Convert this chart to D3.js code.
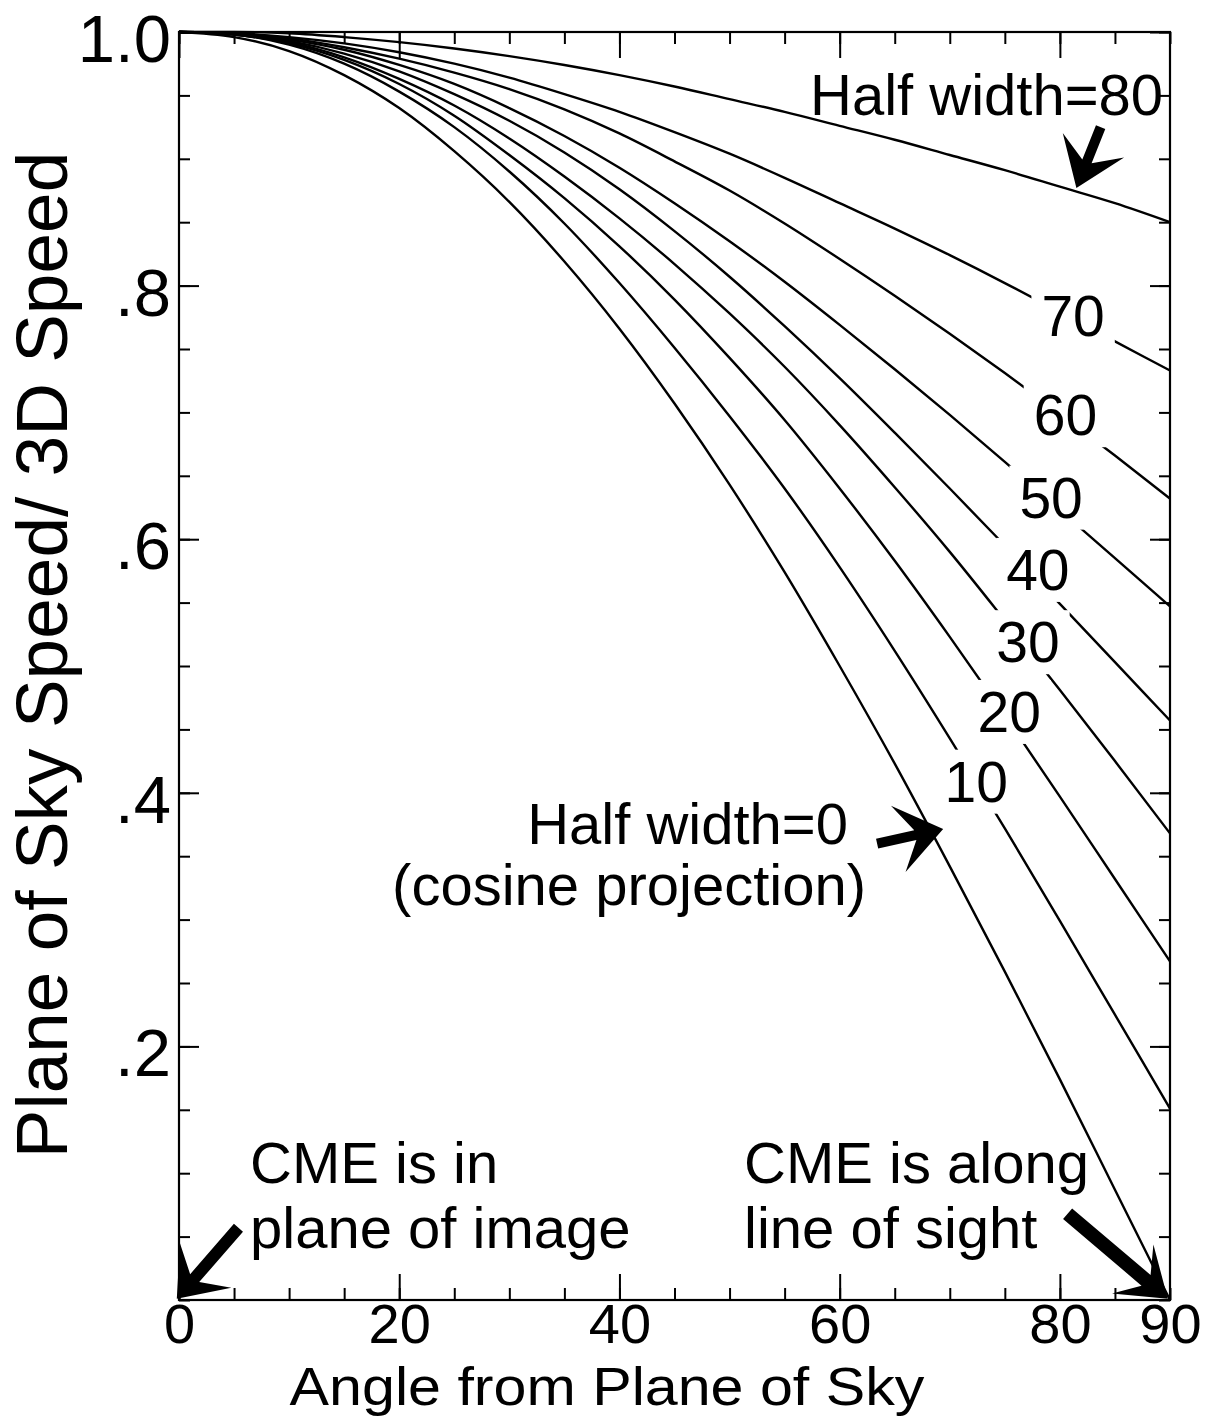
<!DOCTYPE html>
<html><head><meta charset="utf-8">
<script src="https://cdn.jsdelivr.net/npm/d3@7"></script>
<style>
html,body{margin:0;padding:0;background:#fff;}
svg{display:block;}
</style></head><body>
<svg id="chart" width="1210" height="1416"></svg>
<script>
// ---------------- data ----------------
const angles = [0,5,10,15,20,25,30,35,40,45,50,55,60,65,70,75,80,85,90];
const halfWidths = [0,10,20,30,40,50,60,70,80];
const hw0  = [1.000,0.996,0.985,0.966,0.940,0.906,0.866,0.819,0.766,0.707,0.643,0.574,0.500,0.423,0.342,0.259,0.174,0.087,0.000];
const hw10 = [1.000,0.998,0.990,0.975,0.953,0.925,0.890,0.849,0.802,0.751,0.697,0.640,0.578,0.512,0.443,0.372,0.299,0.225,0.151];
const hw20 = [1.000,0.998,0.991,0.978,0.959,0.934,0.903,0.869,0.831,0.789,0.743,0.694,0.640,0.583,0.523,0.461,0.397,0.332,0.267];
const hw30 = [1.000,0.998,0.992,0.980,0.963,0.942,0.916,0.886,0.853,0.817,0.778,0.736,0.690,0.641,0.590,0.536,0.481,0.425,0.368];
const hw40 = [1.000,0.999,0.993,0.983,0.969,0.951,0.930,0.905,0.876,0.843,0.807,0.768,0.727,0.684,0.640,0.595,0.549,0.503,0.457];
const hw50 = [1.000,0.999,0.994,0.986,0.974,0.959,0.940,0.918,0.893,0.865,0.835,0.803,0.769,0.734,0.698,0.661,0.623,0.585,0.547];
const hw60 = [1.000,0.999,0.995,0.988,0.979,0.968,0.955,0.939,0.920,0.898,0.875,0.849,0.821,0.792,0.762,0.731,0.699,0.666,0.632];
const hw70 = [1.000,0.999,0.996,0.991,0.984,0.975,0.964,0.951,0.937,0.921,0.904,0.885,0.865,0.845,0.824,0.802,0.779,0.756,0.733];
const hw80 = [1.000,1.000,0.999,0.996,0.992,0.987,0.981,0.974,0.966,0.957,0.947,0.937,0.926,0.915,0.903,0.891,0.878,0.865,0.850];
const seriesValues = [hw0,hw10,hw20,hw30,hw40,hw50,hw60,hw70,hw80];

const xMinorTicks = [0,5,10,15,20,25,30,35,40,45,50,55,60,65,70,75,80,85,90];
const xMajorTicks = [0,20,40,60,80];
const xTickLabels = [0,20,40,60,80,90];
const yMinorTicks = [0,0.05,0.1,0.15,0.2,0.25,0.3,0.35,0.4,0.45,0.5,0.55,0.6,0.65,0.7,0.75,0.8,0.85,0.9,0.95,1.0];
const yTickLabels = [0.2,0.4,0.6,0.8,1.0];

const xTitle = "Angle from Plane of Sky";
const yTitle = "Plane of Sky Speed/ 3D Speed";

// ---------------- layout ----------------
const FONT = '"Liberation Sans", Arial, Helvetica, sans-serif';
const svg = d3.select('#chart');
const x = d3.scaleLinear().domain([0,90]).range([179,1170]);
const y = d3.scaleLinear().domain([0,1]).range([1300,32]);

function styleAxis(g){ g.select('.domain').remove(); g.selectAll('line').attr('stroke','#000').attr('stroke-width',2); }

// bottom
svg.append('g').attr('transform',`translate(0,${y(0)})`)
  .call(d3.axisBottom(x).tickValues(xMinorTicks).tickSize(-12).tickFormat('')).call(styleAxis);
svg.append('g').attr('transform',`translate(0,${y(0)})`)
  .call(d3.axisBottom(x).tickValues(xMajorTicks).tickSize(-26).tickFormat('')).call(styleAxis);
const xl = svg.append('g').attr('transform',`translate(0,${y(0)})`)
  .call(d3.axisBottom(x).tickValues(xTickLabels).tickSize(0).tickPadding(3).tickFormat(d3.format('d'))).call(styleAxis);
xl.attr('font-family',FONT).attr('font-size',56);
xl.selectAll('text').attr('fill','#000');

// top
svg.append('g').attr('transform',`translate(0,${y(1)})`)
  .call(d3.axisTop(x).tickValues(xMinorTicks).tickSize(-12).tickFormat('')).call(styleAxis);
svg.append('g').attr('transform',`translate(0,${y(1)})`)
  .call(d3.axisTop(x).tickValues(xMajorTicks).tickSize(-26).tickFormat('')).call(styleAxis);

// left
svg.append('g').attr('transform',`translate(${x(0)},0)`)
  .call(d3.axisLeft(y).tickValues(yMinorTicks).tickSize(-11).tickFormat('')).call(styleAxis);
const yl = svg.append('g').attr('transform',`translate(${x(0)},0)`)
  .call(d3.axisLeft(y).tickValues(yTickLabels).tickSize(-20).tickPadding(8)
    .tickFormat(d => d === 1 ? '1.0' : d3.format('.1f')(d).replace(/^0/,''))).call(styleAxis);
yl.attr('font-family',FONT).attr('font-size',67);
yl.selectAll('text').attr('fill','#000').attr('dy','0.44em');

// right
svg.append('g').attr('transform',`translate(${x(90)},0)`)
  .call(d3.axisRight(y).tickValues(yMinorTicks).tickSize(-11).tickFormat('')).call(styleAxis);
svg.append('g').attr('transform',`translate(${x(90)},0)`)
  .call(d3.axisRight(y).tickValues(yTickLabels).tickSize(-20).tickFormat('')).call(styleAxis);

// curves
const line = d3.line().x(d => x(d[0])).y(d => y(d[1])).curve(d3.curveMonotoneX);
const series = halfWidths.map((hw,i) => ({hw, pts: angles.map((a,j) => [a, seriesValues[i][j]])}));
svg.append('g').selectAll('path').data(series).join('path')
  .attr('d', d => line(d.pts)).attr('fill','none').attr('stroke','#000').attr('stroke-width',2.4);

// curve labels (with white knock-out behind them)
const curveLabelPos = [
  {hw:70, a:81.2, v:0.760},{hw:60, a:80.5, v:0.682},{hw:50, a:79.2, v:0.617},
  {hw:40, a:78.0, v:0.560},{hw:30, a:77.1, v:0.503},{hw:20, a:75.4, v:0.448},{hw:10, a:72.4, v:0.393}
];
const lg = svg.append('g').attr('font-family',FONT).attr('font-size',57);
curveLabelPos.forEach(p => {
  const g = lg.append('g');
  const t = g.append('text').attr('x',x(p.a)).attr('y',y(p.v)).attr('text-anchor','middle').text(p.hw);
  const b = t.node().getBBox();
  g.insert('rect','text').attr('x',b.x-10).attr('y',b.y).attr('width',b.width+20).attr('height',b.height).attr('fill','#fff');
});

// frame
svg.append('rect').attr('x',x(0)).attr('y',y(1)).attr('width',x(90)-x(0)).attr('height',y(0)-y(1))
  .attr('fill','none').attr('stroke','#000').attr('stroke-width',2.2);

// annotation texts
const ann = svg.append('g').attr('font-family',FONT).attr('font-size',58).attr('fill','#000');
ann.append('text').attr('x',810).attr('y',115).text('Half width=80');
ann.append('text').attr('x',848).attr('y',844).attr('text-anchor','end').text('Half width=0');
ann.append('text').attr('x',866).attr('y',905).attr('text-anchor','end').text('(cosine projection)');
ann.append('text').attr('x',250).attr('y',1183).text('CME is in');
ann.append('text').attr('x',250).attr('y',1248).text('plane of image');
ann.append('text').attr('x',744).attr('y',1183).text('CME is along');
ann.append('text').attr('x',744).attr('y',1248).text('line of sight');

// arrows (positions in data units)
const arrows = [
  {from:[83.7,0.925], to:[81.5,0.877], L:46, W:33, s:5},
  {from:[63.4,0.360], to:[69.4,0.3715], L:46, W:34, s:5},
  {from:[5.4,0.057], to:[-0.2,0.001], L:44, W:34, s:6},
  {from:[80.7,0.068], to:[89.8,0.001], L:46, W:32, s:7}
];
function arrowPath(a){
  const x1=x(a.from[0]), y1=y(a.from[1]), x2=x(a.to[0]), y2=y(a.to[1]);
  const dx=x2-x1, dy=y2-y1, len=Math.hypot(dx,dy), ux=dx/len, uy=dy/len, nx=-uy, ny=ux;
  const neck=0.62*a.L;
  const P=[
    [x1+nx*a.s, y1+ny*a.s],
    [x2-ux*neck+nx*a.s, y2-uy*neck+ny*a.s],
    [x2-ux*a.L+nx*a.W, y2-uy*a.L+ny*a.W],
    [x2,y2],
    [x2-ux*a.L-nx*a.W, y2-uy*a.L-ny*a.W],
    [x2-ux*neck-nx*a.s, y2-uy*neck-ny*a.s],
    [x1-nx*a.s, y1-ny*a.s]
  ];
  return 'M'+P.map(p=>p.join(',')).join('L')+'Z';
}
svg.append('g').selectAll('path').data(arrows).join('path').attr('d',arrowPath).attr('fill','#000');

// axis titles
svg.append('text').attr('transform','translate(607,1404.5) scale(1.096,1)').attr('text-anchor','middle')
  .attr('font-family',FONT).attr('font-size',54).text(xTitle);
svg.append('text').attr('transform','translate(67,655) rotate(-90)').attr('text-anchor','middle')
  .attr('font-family',FONT).attr('font-size',73).text(yTitle);
</script>
</body></html>
